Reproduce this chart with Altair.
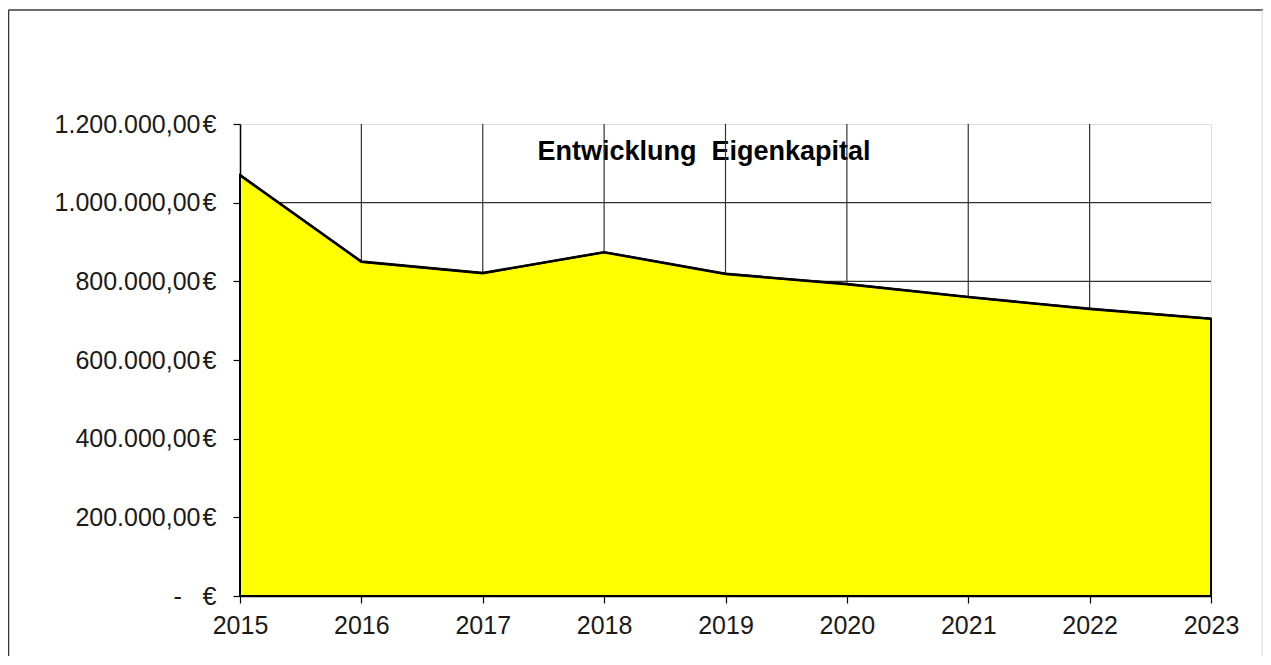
import altair as alt
import pandas as pd

years = [2015, 2016, 2017, 2018, 2019, 2020, 2021, 2022, 2023]
eigenkapital = [1070000, 850000, 821000, 874000, 819000, 793000, 760000, 730000, 705000]

y_ticks = [0, 200000, 400000, 600000, 800000, 1000000, 1200000]
y_tick_labels = [
    "-\u00a0\u00a0\u00a0€",
    "200.000,00\u200a€",
    "400.000,00\u200a€",
    "600.000,00\u200a€",
    "800.000,00\u200a€",
    "1.000.000,00\u200a€",
    "1.200.000,00\u200a€",
]
grid_years = [2016, 2017, 2018, 2019, 2020, 2021, 2022]
grid_values = [200000, 400000, 600000, 800000, 1000000]
title_text = "Entwicklung \u00a0Eigenkapital"

FONT = "Liberation Sans, Arial, sans-serif"

df = pd.DataFrame({"Jahr": years, "Eigenkapital": eigenkapital})

label_expr = ""
for v, l in zip(y_ticks, y_tick_labels):
    label_expr += f"datum.value == {v} ? '{l}' : "
label_expr += "''"

x_scale = alt.Scale(domain=[2015, 2023], nice=False, zero=False)
y_scale = alt.Scale(domain=[0, 1200000], nice=False)

x_enc = alt.X(
    "Jahr:Q",
    scale=x_scale,
    axis=alt.Axis(
        values=years, format="d", title=None, grid=False,
        domainColor="#000000", domainWidth=1.5,
        tickColor="#000000", tickSize=7, tickWidth=1.2,
        labelFont=FONT, labelFontSize=25, labelColor="#1a1a1a",
        labelPadding=10, labelFlush=False,
    ),
)
y_enc = alt.Y(
    "Eigenkapital:Q",
    scale=y_scale,
    axis=alt.Axis(
        values=y_ticks, labelExpr=label_expr, title=None, grid=False,
        domainColor="#000000", domainWidth=1.5,
        tickColor="#000000", tickSize=7, tickWidth=1.2,
        labelFont=FONT, labelFontSize=25, labelColor="#1a1a1a",
        labelPadding=17, labelLimit=400,
    ),
)

one = pd.DataFrame({"a": [0]})

title_layer = alt.Chart(one).mark_text(
    text=title_text, font=FONT, fontSize=27, fontWeight="bold",
    color="#000000", align="center", baseline="middle",
).encode(x=alt.value(464), y=alt.value(28))

vgrid = alt.Chart(pd.DataFrame({"Jahr": grid_years})).mark_rule(
    color="#333333", strokeWidth=1.2
).encode(
    x=alt.X("Jahr:Q", scale=x_scale),
    y=alt.value(0), y2=alt.value(472),
)

hgrid = alt.Chart(pd.DataFrame({"Eigenkapital": grid_values})).mark_rule(
    color="#333333", strokeWidth=1.2
).encode(
    y=alt.Y("Eigenkapital:Q", scale=y_scale),
    x=alt.value(0), x2=alt.value(971),
)

area = alt.Chart(df).mark_area(
    color="#FFFF00", stroke="#000000", strokeWidth=2, strokeJoin="miter", opacity=1
).encode(x=x_enc, y=y_enc)

line = alt.Chart(df).mark_line(
    color="#000000", strokeWidth=2.6
).encode(x=alt.X("Jahr:Q", scale=x_scale), y=alt.Y("Eigenkapital:Q", scale=y_scale))

border_left = alt.Chart(one).mark_rule(color="#3a3a3a", strokeWidth=1.6).encode(
    x=alt.value(-231.5), y=alt.value(-114), y2=alt.value(600)
)
border_top = alt.Chart(one).mark_rule(color="#3a3a3a", strokeWidth=1.6).encode(
    y=alt.value(-114), x=alt.value(-231.5), x2=alt.value(1023)
)
border_right = alt.Chart(one).mark_rule(color="#d8d8d8", strokeWidth=1).encode(
    x=alt.value(1022), y=alt.value(-114), y2=alt.value(600)
)

chart = alt.layer(
    title_layer, vgrid, hgrid, area, line, border_left, border_top, border_right
).properties(
    width=971, height=472,
    autosize="none",
    padding={"left": 232, "top": 116, "right": 52, "bottom": 60},
).configure_view(
    stroke="#808080", strokeWidth=2.5
).configure(
    background="white"
)

chart.save("out.html", embed_options={"renderer": "svg", "actions": False})
